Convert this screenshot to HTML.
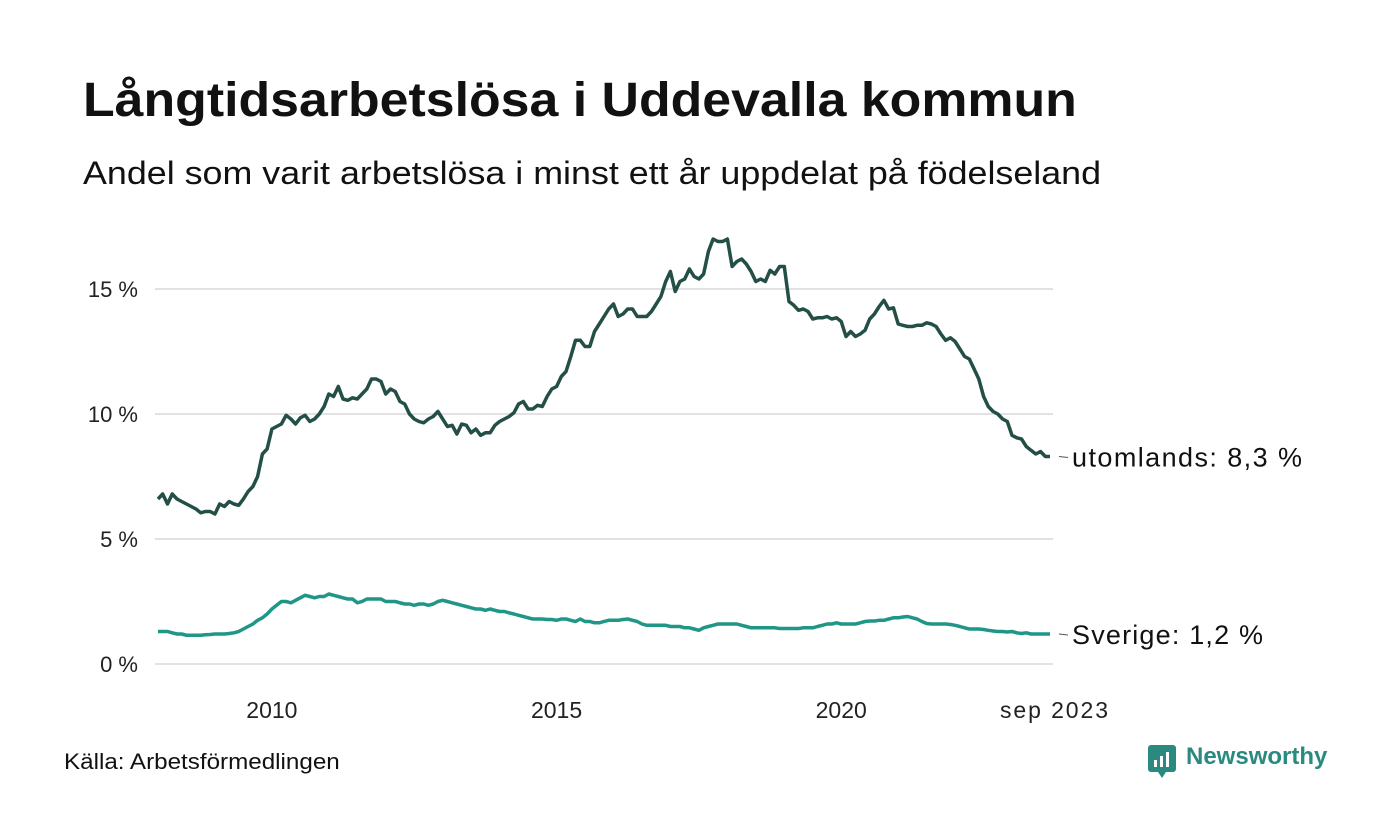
<!DOCTYPE html>
<html><head><meta charset="utf-8">
<style>
body{margin:0;background:#fff;font-family:"Liberation Sans",sans-serif;}
#wrap{position:relative;width:1400px;height:840px;overflow:hidden;background:#fff;}
.t{position:absolute;white-space:nowrap;color:#111;transform-origin:0 0;}
</style></head><body>
<div id="wrap">
<div class="t" style="left:83px;top:73px;font-size:48px;font-weight:bold;transform:scaleX(1.08);">Långtidsarbetslösa i Uddevalla kommun</div>
<div class="t" style="left:83px;top:155px;font-size:32px;transform:scaleX(1.12);">Andel som varit arbetslösa i minst ett år uppdelat på födelseland</div>
<svg id="chart" width="1400" height="840" style="position:absolute;left:0;top:0"></svg>
<div class="t" style="left:64px;top:749px;font-size:22px;transform:scaleX(1.1);">Källa: Arbetsförmedlingen</div>
<div style="position:absolute;left:1148px;top:745px;">
<svg width="30" height="34" style="position:absolute;left:0;top:0"><rect x="0" y="0" width="28" height="27" rx="3" fill="#2a8a80"/><polygon points="10,27 18,27 14,33" fill="#2a8a80"/><rect x="6" y="15" width="3" height="7" fill="#fff"/><rect x="12" y="11" width="3" height="11" fill="#fff"/><rect x="18" y="7" width="3" height="15" fill="#fff"/></svg>
<div class="t" style="left:38px;top:-2px;font-size:24px;font-weight:bold;color:#2a8a80;">Newsworthy</div>
</div>
</div>
<script>
const yTicks=[0,5,10,15];
const yTickLabels=["0 %","5 %","10 %","15 %"];
const xTicks=[2010,2015,2020];
const utomlands=[6.6,6.8,6.4,6.8,6.6,6.5,6.4,6.3,6.2,6.05,6.1,6.1,
6.0,6.4,6.3,6.5,6.4,6.35,6.6,6.9,7.1,7.5,8.4,8.6,
9.4,9.5,9.6,9.95,9.8,9.6,9.85,9.95,9.7,9.8,10.0,10.3,
10.8,10.7,11.1,10.6,10.55,10.65,10.6,10.8,11.0,11.4,11.4,11.3,
10.8,11.0,10.9,10.5,10.4,10.0,9.8,9.7,9.65,9.8,9.9,10.1,
9.8,9.5,9.55,9.2,9.6,9.55,9.25,9.4,9.15,9.25,9.25,9.55,
9.7,9.8,9.9,10.05,10.4,10.5,10.2,10.2,10.35,10.3,10.7,11.0,
11.1,11.5,11.7,12.3,12.95,12.95,12.7,12.7,13.3,13.6,13.9,14.2,
14.4,13.9,14.0,14.2,14.2,13.9,13.9,13.9,14.1,14.4,14.7,15.3,
15.7,14.9,15.3,15.4,15.8,15.5,15.4,15.6,16.5,17.0,16.9,16.9,
17.0,15.9,16.1,16.2,16.0,15.7,15.3,15.4,15.3,15.75,15.6,15.9,
15.9,14.5,14.35,14.15,14.2,14.1,13.8,13.85,13.85,13.9,13.8,13.85,
13.7,13.1,13.3,13.1,13.2,13.35,13.8,14.0,14.3,14.55,14.2,14.25,
13.6,13.55,13.5,13.5,13.55,13.55,13.65,13.6,13.5,13.2,12.95,13.05,
12.9,12.6,12.3,12.2,11.8,11.4,10.7,10.3,10.1,10.0,9.8,9.7,
9.15,9.05,9.0,8.7,8.55,8.4,8.5,8.3,8.3];
const sverige=[1.3,1.3,1.3,1.25,1.2,1.2,1.15,1.15,1.15,1.15,1.17,1.18,
1.2,1.2,1.2,1.22,1.25,1.3,1.4,1.5,1.6,1.75,1.85,2.0,
2.2,2.35,2.5,2.5,2.45,2.55,2.65,2.75,2.7,2.65,2.7,2.7,
2.8,2.75,2.7,2.65,2.6,2.6,2.45,2.5,2.6,2.6,2.6,2.6,
2.5,2.5,2.5,2.45,2.4,2.4,2.35,2.4,2.4,2.35,2.4,2.5,
2.55,2.5,2.45,2.4,2.35,2.3,2.25,2.2,2.2,2.15,2.2,2.15,
2.1,2.1,2.05,2.0,1.95,1.9,1.85,1.8,1.8,1.8,1.78,1.78,
1.75,1.8,1.8,1.75,1.7,1.8,1.7,1.7,1.65,1.65,1.7,1.75,
1.75,1.75,1.78,1.8,1.75,1.7,1.6,1.55,1.55,1.55,1.55,1.55,
1.5,1.5,1.5,1.45,1.45,1.4,1.35,1.45,1.5,1.55,1.6,1.6,
1.6,1.6,1.6,1.55,1.5,1.45,1.45,1.45,1.45,1.45,1.45,1.42,
1.42,1.42,1.42,1.42,1.45,1.45,1.45,1.5,1.55,1.6,1.6,1.65,
1.6,1.6,1.6,1.6,1.65,1.7,1.72,1.72,1.75,1.75,1.8,1.85,
1.85,1.88,1.9,1.85,1.8,1.7,1.62,1.6,1.6,1.6,1.6,1.58,
1.55,1.5,1.45,1.4,1.4,1.4,1.38,1.35,1.32,1.3,1.3,1.28,
1.3,1.25,1.22,1.25,1.2,1.2,1.2,1.2,1.2];
const startYear=2008;
const NS="http://www.w3.org/2000/svg";
const svg=document.getElementById('chart');
const x0=158, x1=1050;
const xi=i=>x0+(x1-x0)*i/(utomlands.length-1);
const xs=t=>xi((t-startYear)*12);
const ys=v=>664-v*25;
function mk(tag,attrs,parent){const e=document.createElementNS(NS,tag);for(const k in attrs)e.setAttribute(k,attrs[k]);(parent||svg).appendChild(e);return e;}
yTicks.forEach((v,i)=>{
  const l=mk('line',{x1:155,x2:1053,y1:ys(v),y2:ys(v),stroke:'#e2e2e6','stroke-width':2});
  
  
  const t=mk('text',{x:138,y:ys(v)+8,'text-anchor':'end','font-size':22,fill:'#222','font-family':'Liberation Sans, sans-serif'});
  t.textContent=yTickLabels[i];
  
  
});
xTicks.forEach(y=>{
  const t=mk('text',{x:xs(y),y:718,'text-anchor':'middle','font-size':23,fill:'#222','font-family':'Liberation Sans, sans-serif'});
  t.textContent=String(y);
  
  
});
const et=mk('text',{x:1054,y:718,'text-anchor':'middle','font-size':23,fill:'#222','font-family':'Liberation Sans, sans-serif',textLength:108});
et.textContent='sep 2023';


function line(data,color,name,label,len){
  const d=data.map((v,i)=>(i?'L':'M')+xi(i).toFixed(1)+','+ys(v).toFixed(1)).join('');
  const p=mk('path',{d:d,fill:'none',stroke:color,'stroke-width':3.5,'stroke-linejoin':'round'});
  
  
  const ly=ys(data[data.length-1]);
  mk('line',{x1:1059,x2:1068,y1:ly,y2:ly+1,stroke:'#555','stroke-width':1});
  const t=mk('text',{x:1072,y:ly+10,'font-size':27,fill:'#111','font-family':'Liberation Sans, sans-serif',textLength:len});
  t.textContent=label+data[data.length-1].toFixed(1).replace('.',',')+' %';
  
  
}
line(sverige,'#1f9686','sverige-line','Sverige: ',191);
line(utomlands,'#234f47','utomlands-line','utomlands: ',230);
</script>
</body></html>
